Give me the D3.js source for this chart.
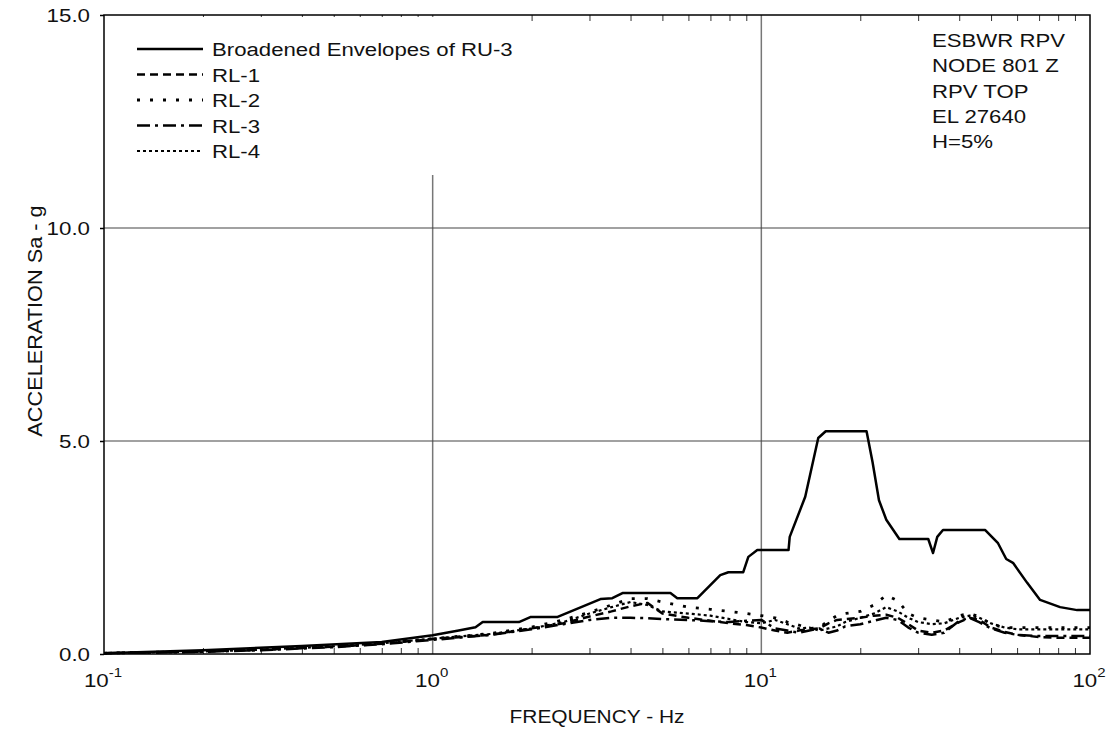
<!DOCTYPE html>
<html><head><meta charset="utf-8">
<script src="https://cdn.jsdelivr.net/npm/d3@7"></script>
<style>body{margin:0;background:#fff}svg{display:block}text{font-family:"Liberation Sans",Arial,sans-serif;fill:#111}</style>
</head><body><svg id="c" width="1113" height="734"></svg>
<script>
const envF = [0.1,0.2,0.4,0.7,1.0,1.2,1.35,1.42,1.83,1.99,2.4,3.24,3.52,3.78,5.29,5.55,6.39,7.5,7.94,8.81,9.13,9.72,12.1,12.2,13.6,14.9,15.7,20.9,21.8,22.8,24.0,26.3,32.2,33.3,34.3,35.7,48.0,52.5,55.6,58.3,64.4,70.5,81.1,91.4,100];
const envV = [0.02,0.09,0.19,0.28,0.44,0.55,0.63,0.75,0.75,0.87,0.87,1.29,1.31,1.43,1.43,1.31,1.31,1.85,1.92,1.92,2.28,2.44,2.44,2.75,3.69,5.07,5.23,5.23,4.5,3.61,3.15,2.7,2.7,2.37,2.75,2.91,2.91,2.6,2.23,2.14,1.67,1.27,1.1,1.03,1.03];
const rlF = [0.1,0.2,0.3,0.5,0.7,1,1.5,2,2.5,3,3.5,4,4.5,5,6,7,8,9,10,11,12,13,14,15,16,17,18,20,22,24,26,28,30,33,36,40,43,46,50,55,60,70,80,90,100];
const rl1 = [0.02,0.06,0.1,0.17,0.24,0.35,0.45,0.6,0.72,0.88,1.0,1.12,1.2,0.95,0.85,0.78,0.72,0.68,0.62,0.55,0.5,0.55,0.58,0.6,0.72,0.8,0.82,0.85,0.9,0.92,0.85,0.7,0.55,0.5,0.55,0.75,0.85,0.8,0.62,0.52,0.45,0.4,0.38,0.38,0.38];
const rl2 = [0.02,0.06,0.1,0.18,0.25,0.36,0.48,0.63,0.8,0.98,1.15,1.3,1.3,1.22,1.1,1.05,1.0,0.95,0.9,0.85,0.75,0.68,0.6,0.62,0.78,0.9,0.95,1.0,1.15,1.38,1.25,0.95,0.85,0.8,0.75,0.9,0.95,0.88,0.7,0.62,0.62,0.62,0.62,0.62,0.62];
const rl3 = [0.02,0.05,0.09,0.16,0.23,0.33,0.45,0.58,0.7,0.8,0.85,0.85,0.84,0.82,0.8,0.77,0.75,0.78,0.8,0.6,0.55,0.5,0.55,0.6,0.5,0.55,0.65,0.7,0.78,0.85,0.8,0.62,0.5,0.45,0.5,0.78,0.85,0.75,0.6,0.5,0.45,0.42,0.42,0.42,0.42];
const rl4 = [0.02,0.06,0.1,0.18,0.25,0.36,0.47,0.6,0.75,0.95,1.1,1.22,1.15,1.0,0.95,0.9,0.82,0.75,0.72,0.8,0.7,0.6,0.62,0.55,0.6,0.65,0.75,0.85,0.95,1.1,1.0,0.85,0.75,0.7,0.72,0.85,0.9,0.85,0.72,0.62,0.58,0.58,0.58,0.58,0.58];
const legendLabels = ["Broadened Envelopes of RU-3","RL-1","RL-2","RL-3","RL-4"];
const noteLines = ["ESBWR RPV","NODE 801 Z","RPV TOP","EL 27640","H=5%"];
const yTicks = [0,5,10,15];
const xDecades = [0.1,1,10,100];
const xTickExp = ["-1","0","1","2"];

const svg = d3.select("#c");
const L=104,R=1090,T=15,B=654;
const SX=1.18;
const x = d3.scaleLog().domain([0.1,100]).range([L,R]);
const y = d3.scaleLinear().domain([0,15]).range([B,T]);

function txt(parent,px,py,size,str,anchor,sx){
  return parent.append("text").attr("transform",`translate(${px},${py}) scale(${sx||SX},1)`)
    .attr("font-size",size).attr("text-anchor",anchor||"start").text(str);
}

// grid
const g = svg.append("g");
[1,10].forEach(d=>g.append("line").attr("x1",x(d)).attr("x2",x(d)).attr("y1",T).attr("y2",B).attr("stroke","#777").attr("stroke-width",1.5));
[5,10].forEach(d=>g.append("line").attr("x1",L).attr("x2",R).attr("y1",y(d)).attr("y2",y(d)).attr("stroke","#444").attr("stroke-width",1.2));

// minor ticks
const minor=[];
[0.1,1,10].forEach(dec=>{for(let k=2;k<=9;k++)minor.push(dec*k);});
svg.append("g").attr("transform",`translate(0,${B})`).call(d3.axisBottom(x).tickValues(minor).tickSize(-6).tickFormat("")).call(a=>{a.select(".domain").remove();a.selectAll("line").attr("stroke","#333").attr("stroke-width",1);});
svg.append("g").attr("transform",`translate(0,${T})`).call(d3.axisTop(x).tickValues(minor).tickSize(-6).tickFormat("")).call(a=>{a.select(".domain").remove();a.selectAll("line").attr("stroke","#333").attr("stroke-width",1);});

// y axis
const ya = svg.append("g").attr("transform",`translate(${L},0)`).call(d3.axisLeft(y).tickValues(yTicks).tickSize(4).tickFormat(""));
ya.select(".domain").remove();
ya.selectAll("line").attr("stroke","#000").attr("stroke-width",1.5);
yTicks.forEach(v=>txt(svg,90,y(v)+6.5,18.6,d3.format(".1f")(v),"end",1.2));

// x decade labels
xDecades.forEach((d,i)=>{
  const t = txt(svg,x(d)-1,687,18.6,"","middle",1.2);
  t.append("tspan").text("10");
  t.append("tspan").attr("dy",-10).attr("font-size",12.5).text(xTickExp[i]);
});

// frame
svg.append("rect").attr("x",L).attr("y",T).attr("width",R-L).attr("height",B-T).attr("fill","none").attr("stroke","#000").attr("stroke-width",1.5);

// legend background
svg.append("rect").attr("x",L+2).attr("y",T+2).attr("width",420).attr("height",158).attr("fill","#fff");

// series
const line = d3.line().x(d=>x(d[0])).y(d=>y(d[1]));
const series = [
  {f:envF,v:envV,dash:null,w:2.5},
  {f:rlF,v:rl1,dash:"8,5",w:2.5},
  {f:rlF,v:rl2,dash:"3,10",w:2.8},
  {f:rlF,v:rl3,dash:"13,5,3,5",w:2.5},
  {f:rlF,v:rl4,dash:"3,3",w:2.2}
];
const sg = svg.append("g");
series.slice().reverse().forEach(s=>{
  sg.append("path").datum(s.f.map((f,i)=>[f,s.v[i]])).attr("d",line).attr("fill","none").attr("stroke","#000").attr("stroke-width",s.w).attr("stroke-dasharray",s.dash).attr("stroke-linejoin","round");
});

// legend
const lg = svg.append("g");
legendLabels.forEach((lab,i)=>{
  const by = 56 + i*25.5;
  lg.append("line").attr("x1",137).attr("x2",203).attr("y1",by-7).attr("y2",by-7).attr("stroke","#000").attr("stroke-width",series[i].w).attr("stroke-dasharray",series[i].dash);
  txt(lg,212,by,18.8,lab);
});
// notes
noteLines.forEach((t,i)=>txt(svg,932,47+i*25.3,18.8,t));

// axis titles
txt(svg,597,723,19,"FREQUENCY - Hz","middle",1.1);
svg.append("text").attr("transform",`translate(42,321) rotate(-90) scale(1.06,1)`).attr("text-anchor","middle").attr("font-size",20.5).text("ACCELERATION Sa - g");
</script></body></html>
